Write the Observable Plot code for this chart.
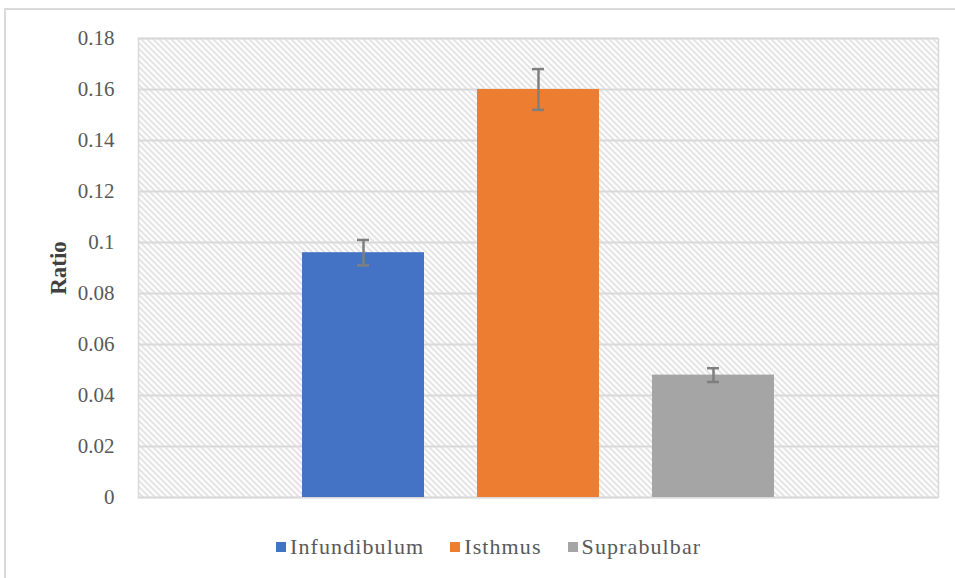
<!DOCTYPE html>
<html><head><meta charset="utf-8">
<script src="https://cdn.jsdelivr.net/npm/d3@7"></script>
<script src="https://cdn.jsdelivr.net/npm/@observablehq/plot@0.6"></script>
<style>
html,body{margin:0;padding:0;background:#fff;overflow:hidden;}
#wrap{position:relative;width:955px;height:578px;}
#frame{position:absolute;left:4px;top:8px;width:1000px;height:600px;border-left:2px solid #d9d9d9;border-top:2px solid #d9d9d9;pointer-events:none;z-index:2;}
#chart{position:absolute;left:0;top:0;}
#legend{position:absolute;top:534px;left:276px;display:flex;align-items:center;font-family:"Liberation Serif",serif;font-size:22px;letter-spacing:1.1px;color:#595959;white-space:nowrap;}
.item{display:flex;align-items:center;margin-right:26px;}
.sw{width:10px;height:10px;margin-right:4px;}
</style>
</head><body>
<div id="wrap"><div id="frame"></div><div id="chart"></div><div id="legend"></div></div>
<script>
const categories = ["Infundibulum", "Isthmus", "Suprabulbar"];
const ratios = [0.096, 0.16, 0.048];
const errors = [0.005, 0.008, 0.0027];
const colors = ["#4472c4", "#ed7d31", "#a5a5a5"];
const yTicks = [0, 0.02, 0.04, 0.06, 0.08, 0.1, 0.12, 0.14, 0.16, 0.18];
const yLabel = "Ratio";

const data = categories.map((c, i) => ({cat: c, value: ratios[i], lo: ratios[i] - errors[i], hi: ratios[i] + errors[i]}));

const chart = Plot.plot({
  width: 955,
  height: 520,
  marginLeft: 138,
  marginRight: 17,
  marginTop: 38,
  marginBottom: 23,
  style: {background: "transparent", fontFamily: "Liberation Serif, serif"},
  x: {domain: categories, paddingInner: 0.303, paddingOuter: 0.937, axis: null},
  y: {domain: [0, 0.18], axis: null},
  color: {domain: categories, range: colors},
  marks: [
    Plot.frame({fill: "url(#hatch)", stroke: "#d9d9d9", strokeWidth: 1.5}),
    Plot.gridY(yTicks, {stroke: "#d9d9d9", strokeOpacity: 1, strokeWidth: 2}),
    Plot.axisY(yTicks, {tickSize: 0, tickPadding: 24, tickFormat: d => String(+d.toFixed(2)), fontSize: 21, fill: "#595959", label: null}),
    Plot.text([yLabel], {frameAnchor: "left", textAnchor: "middle", dx: -80, rotate: -90, fontSize: 23, fontWeight: "bold", fill: "#404040"}),
    Plot.barY(data, {x: "cat", y: "value", fill: "cat"}),
    Plot.ruleX(data, {x: "cat", y1: "lo", y2: "hi", stroke: "#7f7f7f", strokeWidth: 2.5}),
    Plot.tickY(data, {x: "cat", y: "hi", inset: 55, stroke: "#7f7f7f", strokeWidth: 2.5}),
    Plot.tickY(data, {x: "cat", y: "lo", inset: 55, stroke: "#7f7f7f", strokeWidth: 2.5})
  ]
});
chart.insertAdjacentHTML("afterbegin", `<defs><pattern id="hatch" width="6" height="6" patternUnits="userSpaceOnUse"><path d="M0,0L6,6M-1,5L1,7M5,-1L7,1" stroke="#dcdcdc" stroke-width="1.6"/></pattern></defs>`);
document.getElementById("chart").appendChild(chart);

const legend = document.getElementById("legend");
categories.forEach((c, i) => {
  const it = document.createElement("div");
  it.className = "item";
  it.innerHTML = `<span class="sw" style="background:${colors[i]}"></span><span>${c}</span>`;
  legend.appendChild(it);
});
</script>
</body></html>
